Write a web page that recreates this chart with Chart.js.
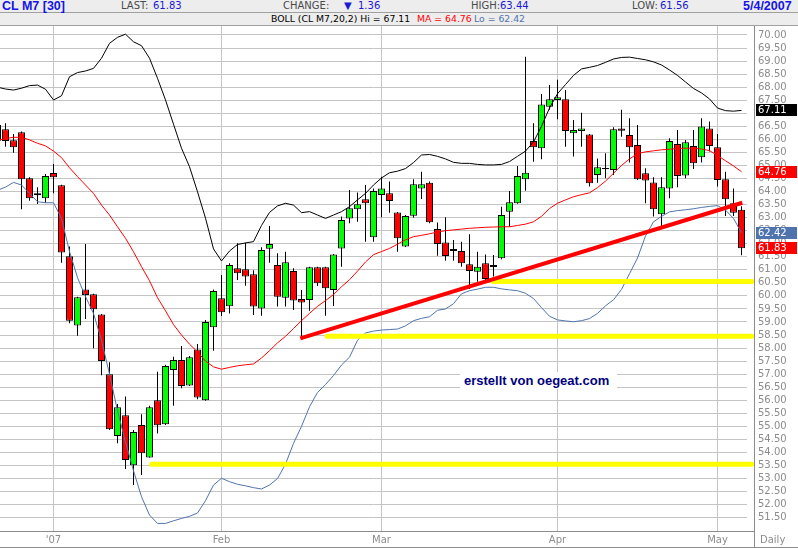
<!DOCTYPE html>
<html>
<head>
<meta charset="utf-8">
<script src="https://cdn.jsdelivr.net/npm/chart.js@4.4.0/dist/chart.umd.min.js"></script>
<style>
body { margin: 0; background: #fff; }
#wrap { position: relative; width: 798px; height: 548px; overflow: hidden; font-family: "DejaVu Sans", sans-serif; }
#c { position: absolute; left: 0; top: 0; }
.row { position: absolute; left: 0; width: 798px; height: 12px; background: #ededed; border-bottom: 1px solid #a0a0a0; }
.t { position: absolute; top: 0; font-size: 10px; line-height: 12px; white-space: nowrap; }
.lbl { color: #4a4a4a; }
.val { color: #1a1ad6; }
.big { font-family: "Liberation Sans", Arial, sans-serif; font-weight: bold; font-size: 12.5px; line-height: 13px; color: #1414e6; }
#mark { position: absolute; left: 460px; top: 372px; width: 157px; height: 17px; background: #fff;
        font-family: "Liberation Sans", Arial, sans-serif; font-weight: bold; font-size: 13px; line-height: 17px; color: #000080; }
</style>
</head>
<body>
<div id="wrap">
  <canvas id="c" width="798" height="548"></canvas>
  <div class="row" style="top:0">
    <span class="t big" style="left:2px">CL M7 [30]</span>
    <span class="t lbl" style="left:121px">LAST:</span>
    <span class="t val" style="left:153px">61.83</span>
    <span class="t lbl" style="left:283px">CHANGE:</span>
    <span class="t val" style="left:344px">▼</span>
    <span class="t val" style="left:358px">1.36</span>
    <span class="t lbl" style="left:471px">HIGH:</span>
    <span class="t val" style="left:500px">63.44</span>
    <span class="t lbl" style="left:632px">LOW:</span>
    <span class="t val" style="left:660px">61.56</span>
    <span class="t big" style="left:743px">5/4/2007</span>
  </div>
  <div class="row" style="top:13px">
    <span class="t" style="left:271px;color:#000;font-size:9.3px">BOLL (CL M7,20,2) Hi = 67.11</span>
    <span class="t" style="left:417px;color:#ff0000;font-size:9.3px">MA = 64.76</span>
    <span class="t" style="left:474px;color:#4f74ad;font-size:9.3px">Lo = 62.42</span>
  </div>
  <div id="mark"><span style="padding-left:4px">erstellt von oegeat.com</span></div>
</div>
<script>
// daily candles, first one (index -1) is the last December bar, cut off at the left edge
const firstIdx = -1;

const opens = [
  66.55, 66.39, 65.97, 66.27, 64.51, 63.86, 63.74, 64.71, 64.24, 61.52,
  58.87, 60.25, 60.06, 59.29, 57.00, 54.63, 55.43, 53.51, 55.05, 53.81,
  56.00, 55.08, 57.16, 57.54, 56.57, 57.95, 56.00, 58.80, 59.91, 59.60,
  61.06, 61.02, 60.83, 59.52, 61.81, 61.18, 59.93, 60.95, 59.88, 59.84,
  61.10, 61.10, 60.23, 61.82, 62.97, 63.32, 63.70, 62.25, 63.87, 63.93,
  63.20, 61.89, 63.07, 64.12, 64.34, 62.56, 62.05, 61.72, 61.72, 61.21,
  60.93, 61.25, 61.11, 61.44, 63.23, 63.55, 64.47, 65.94, 65.66, 67.25,
  67.51, 67.54, 66.23, 66.32, 66.19, 64.63, 64.85, 64.83, 66.42, 66.17,
  65.78, 64.70, 64.35, 63.13, 64.12, 65.82, 64.61, 65.75, 65.31, 66.42,
  65.70, 64.47, 63.55, 63.30
];
const highs = [
  66.65, 66.62, 66.21, 66.30, 64.55, 64.16, 64.67, 65.06, 64.26, 61.89,
  59.97, 61.99, 60.08, 59.31, 57.46, 55.86, 56.14, 54.86, 55.46, 55.79,
  57.09, 57.36, 57.67, 58.08, 57.70, 58.16, 59.08, 60.25, 60.80, 61.25,
  62.02, 62.04, 60.98, 61.86, 62.68, 61.63, 61.69, 61.06, 60.23, 61.12,
  61.12, 61.12, 61.61, 63.04, 64.06, 63.96, 64.25, 64.12, 64.57, 64.38,
  63.22, 63.10, 64.47, 64.76, 64.38, 62.81, 63.01, 62.14, 62.08, 62.36,
  61.69, 61.59, 61.57, 63.42, 64.02, 64.98, 69.17, 66.62, 67.74, 68.08,
  68.28, 67.89, 66.74, 67.02, 66.21, 65.27, 65.47, 66.46, 67.13, 66.81,
  66.55, 64.89, 64.55, 64.55, 66.04, 66.36, 65.98, 66.36, 66.81, 66.68,
  66.21, 64.76, 64.12, 63.44
];
const lows = [
  65.72, 65.72, 65.49, 63.32, 63.65, 63.52, 63.57, 63.93, 61.27, 58.95,
  58.47, 59.11, 57.99, 56.96, 54.86, 54.35, 53.37, 52.75, 53.14, 53.80,
  54.73, 55.05, 55.79, 56.46, 56.55, 56.04, 55.98, 57.90, 59.23, 59.33,
  60.61, 60.39, 59.27, 59.24, 61.27, 59.59, 59.59, 59.46, 58.37, 59.43,
  60.38, 59.24, 59.61, 61.12, 62.78, 62.84, 62.08, 62.08, 63.01, 63.19,
  61.69, 61.87, 63.00, 63.71, 62.78, 61.54, 61.35, 61.35, 61.12, 60.26,
  60.54, 60.61, 60.74, 61.40, 62.65, 63.53, 64.03, 65.14, 65.24, 67.13,
  66.77, 65.72, 65.34, 65.72, 64.19, 64.34, 64.51, 64.63, 66.10, 65.11,
  64.44, 63.55, 63.04, 62.65, 63.74, 64.16, 64.51, 64.86, 65.11, 65.53,
  64.19, 63.06, 63.06, 61.56
];
const closes = [
  65.95, 65.94, 65.70, 64.47, 63.74, 63.93, 64.60, 64.55, 61.66, 59.05,
  59.95, 60.03, 59.49, 57.50, 54.89, 55.73, 53.71, 54.78, 53.97, 55.73,
  55.04, 57.31, 57.54, 56.55, 57.65, 56.11, 59.00, 60.19, 59.37, 61.18,
  60.87, 60.74, 59.59, 61.76, 61.99, 59.97, 61.29, 59.82, 59.75, 61.10,
  60.48, 60.29, 61.59, 62.91, 63.36, 63.51, 63.55, 64.02, 64.12, 63.64,
  62.21, 63.06, 64.28, 64.28, 62.82, 61.99, 61.53, 61.80, 61.25, 60.95,
  61.12, 60.65, 61.18, 63.10, 63.59, 64.60, 64.72, 65.70, 67.34, 67.54,
  67.61, 66.32, 66.36, 66.42, 64.32, 64.93, 64.90, 66.39, 66.33, 65.70,
  64.47, 64.42, 63.32, 64.16, 65.94, 64.60, 65.89, 65.08, 66.49, 65.75,
  64.44, 63.70, 63.19, 61.83
];

// Bollinger (20,2)
const upperBand = [
  68.00, 67.93, 67.89, 67.96, 68.06, 68.08, 67.92, 67.51, 67.67, 68.40,
  68.56, 68.62, 68.72, 69.11, 69.68, 69.91, 70.03, 69.74, 69.59, 69.11,
  68.34, 67.51, 66.58, 65.66, 64.95, 63.99, 62.98, 61.80, 61.34, 61.72,
  61.97, 62.03, 62.08, 62.70, 63.20, 63.45, 63.55, 63.48, 63.19, 63.23,
  63.10, 62.97, 63.10, 63.23, 63.42, 63.68, 63.93, 64.25, 64.52, 64.72,
  64.78, 64.88, 65.11, 65.40, 65.42, 65.35, 65.25, 65.12, 65.08, 65.08,
  65.04, 65.02, 65.02, 65.04, 65.15, 65.35, 65.55, 65.90, 66.50, 67.20,
  67.75, 68.10, 68.45, 68.70, 68.76, 68.83, 68.95, 69.08, 69.14, 69.15,
  69.10, 69.05, 68.97, 68.85, 68.66, 68.45, 68.20, 67.95, 67.78, 67.55,
  67.20, 67.10, 67.08, 67.11
];
const midBand = [
  65.96, 66.03, 66.08, 66.08, 65.98, 65.85, 65.75, 65.55, 65.30, 64.91,
  64.57, 64.25, 63.93, 63.48, 63.10, 62.65, 62.21, 61.69, 61.12, 60.58,
  59.93, 59.43, 58.90, 58.50, 58.15, 57.85, 57.50, 57.28, 57.19, 57.26,
  57.32, 57.36, 57.39, 57.62, 57.90, 58.20, 58.45, 58.75, 59.05, 59.33,
  59.60, 59.82, 60.05, 60.35, 60.62, 60.95, 61.30, 61.58, 61.70, 61.82,
  61.98, 62.15, 62.27, 62.32, 62.38, 62.45, 62.50, 62.53, 62.56, 62.59,
  62.61, 62.63, 62.64, 62.65, 62.65, 62.70, 62.75, 62.84, 63.05, 63.35,
  63.55, 63.68, 63.80, 63.88, 63.95, 64.15, 64.40, 64.70, 65.00, 65.25,
  65.45, 65.52, 65.56, 65.60, 65.62, 65.65, 65.66, 65.66, 65.63, 65.57,
  65.38, 65.18, 64.98, 64.76
];
const lowerBand = [
  64.05, 64.17, 64.35, 64.25, 63.93, 63.61, 63.57, 63.57, 62.97, 61.70,
  60.70, 59.97, 59.33, 58.30, 57.00, 55.60, 54.40, 53.30, 52.30, 51.60,
  51.28, 51.28, 51.38, 51.47, 51.55, 51.68, 52.15, 52.75, 53.01, 52.88,
  52.78, 52.72, 52.65, 52.60, 52.75, 53.00, 53.55, 54.35, 55.00, 55.75,
  56.30, 56.60, 56.95, 57.35, 57.65, 58.30, 58.58, 58.65, 58.69, 58.71,
  58.73, 58.85, 59.05, 59.14, 59.20, 59.45, 59.50, 59.70, 60.08, 60.20,
  60.26, 60.33, 60.33, 60.27, 60.23, 60.20, 60.10, 59.90, 59.55, 59.22,
  59.08, 59.04, 59.01, 59.05, 59.13, 59.33, 59.62, 59.85, 60.25, 60.85,
  61.45, 62.30, 62.84, 63.05, 63.22, 63.27, 63.30, 63.34, 63.39, 63.43,
  63.46, 63.29, 62.97, 62.42
];

// drawn-in lines: horizontal supports and the rising trend line
const supportLevels = [60.55, 58.45, 53.55];
const supportStart = [60.94, 40.19, 18.27];
const trendStart = [36.85, 58.37];
const trendEnd = [92.1, 63.57];

// axes
const monthIdx = [6, 27, 47, 69, 89];
const monthLabels = ["'07", 'Feb', 'Mar', 'Apr', 'May'];
const priceTicks = [
  51.5, 52.0, 52.5, 53.0, 53.5, 54.0, 54.5, 55.0, 55.5, 56.0,
  56.5, 57.0, 57.5, 58.0, 58.5, 59.0, 59.5, 60.0, 60.5, 61.0,
  61.5, 62.0, 62.5, 63.0, 63.5, 64.0, 64.5, 65.0, 65.5, 66.0,
  66.5, 67.0, 67.5, 68.0, 68.5, 69.0, 69.5, 70.0
];
const lastTags = [
  { value: 67.11, color: '#000000' },
  { value: 64.76, color: '#ff0000' },
  { value: 62.42, color: '#4f74ad' },
  { value: 61.83, color: '#ff0000' }
];

const GREEN = '#00ff00';
const RED = '#ff0000';
const BLUE = '#4f74ad';

const xs = opens.map((_, i) => i + firstIdx);
const xMin = -0.6875, xMax = 92.6875, xEdge = 93.31;

const wicks = xs.map((x, i) => ({ x: x, y: [lows[i], highs[i]] }));
const bodies = xs.map((x, i) => ({ x: x, y: [opens[i], closes[i]] }));
const bodyColors = xs.map((x, i) => closes[i] >= opens[i] ? GREEN : RED);
const line = arr => xs.map((x, i) => ({ x: x, y: arr[i] }));

const supports = supportLevels.map((lvl, k) => ({
  type: 'line',
  data: [{ x: supportStart[k], y: lvl }, { x: xEdge, y: lvl }],
  borderColor: '#ffff00',
  borderWidth: 5,
  borderCapStyle: 'round',
  pointRadius: 0,
  clip: { left: 0, top: 0, right: 10, bottom: 0 },
  order: 1
}));

const frame = {
  id: 'frame',
  afterDraw(chart) {
    const ctx = chart.ctx;
    const a = chart.chartArea;
    const ys = chart.scales.y;
    const ax = a.right + 7.5;
    ctx.save();
    ctx.strokeStyle = '#8c8c8c';
    ctx.lineWidth = 1;
    ctx.beginPath();
    ctx.moveTo(ax, a.top);
    ctx.lineTo(ax, chart.height);
    ctx.moveTo(0, a.bottom + 0.5);
    ctx.lineTo(ax, a.bottom + 0.5);
    ctx.moveTo(0, chart.height - 0.5);
    ctx.lineTo(chart.width, chart.height - 0.5);
    ctx.stroke();

    ctx.font = '10px "DejaVu Sans"';
    ctx.textBaseline = 'middle';
    ctx.textAlign = 'left';
    lastTags.forEach(tag => {
      const py = Math.round(ys.getPixelForValue(tag.value));
      ctx.fillStyle = tag.color;
      ctx.fillRect(ax + 1.5, py - 6, chart.width - ax - 2.5, 12);
      ctx.fillStyle = '#ffffff';
      ctx.fillText(tag.value.toFixed(2), a.right + 11, py + 0.5);
    });

    ctx.fillStyle = '#8c8c8c';
    ctx.fillText('Daily', a.right + 13, a.bottom + 9);
    ctx.restore();
  }
};

new Chart(document.getElementById('c'), {
  type: 'bar',
  data: {
    datasets: [
      { type: 'line', data: [{ x: trendStart[0], y: trendStart[1] }, { x: trendEnd[0], y: trendEnd[1] }],
        borderColor: RED, borderWidth: 4, pointRadius: 0, order: 0 },
      ...supports,
      { type: 'line', data: line(upperBand), borderColor: '#000000', borderWidth: 1, pointRadius: 0, order: 2 },
      { type: 'line', data: line(midBand), borderColor: RED, borderWidth: 1, pointRadius: 0, order: 2 },
      { type: 'line', data: line(lowerBand), borderColor: BLUE, borderWidth: 1, pointRadius: 0, order: 2 },
      { data: bodies, backgroundColor: bodyColors, borderColor: '#000000', borderWidth: 1,
        borderSkipped: false, barThickness: 7, grouped: false, inflateAmount: 0, order: 3 },
      { data: wicks, backgroundColor: '#000000', borderWidth: 0,
        barThickness: 1, grouped: false, inflateAmount: 0, order: 4 }
    ]
  },
  options: {
    responsive: false,
    animation: false,
    devicePixelRatio: 1,
    layout: { padding: { top: 25, left: 0, right: 0, bottom: 0 } },
    plugins: { legend: { display: false }, tooltip: { enabled: false } },
    scales: {
      x: {
        type: 'linear',
        offset: false,
        min: xMin,
        max: xMax,
        afterBuildTicks: s => { s.ticks = monthIdx.map(v => ({ value: v })); },
        afterFit: s => { s.height = 17; },
        grid: { color: '#c4c4c4', drawTicks: false, offset: false },
        border: { display: false },
        ticks: {
          autoSkip: false,
          maxRotation: 0,
          padding: 3,
          color: '#8c8c8c',
          font: { family: 'DejaVu Sans', size: 10 },
          callback: v => monthLabels[monthIdx.indexOf(v)]
        }
      },
      y: {
        position: 'right',
        min: 50.989,
        max: 70.383,
        afterBuildTicks: s => { s.ticks = priceTicks.map(v => ({ value: v })); },
        afterFit: s => { s.width = 51; },
        grid: { color: '#c4c4c4', drawTicks: false },
        border: { display: false },
        ticks: {
          autoSkip: false,
          padding: 11,
          color: '#8c8c8c',
          font: { family: 'DejaVu Sans', size: 10 },
          callback: v => v.toFixed(2)
        }
      }
    }
  },
  plugins: [frame]
});
</script>
</body>
</html>
